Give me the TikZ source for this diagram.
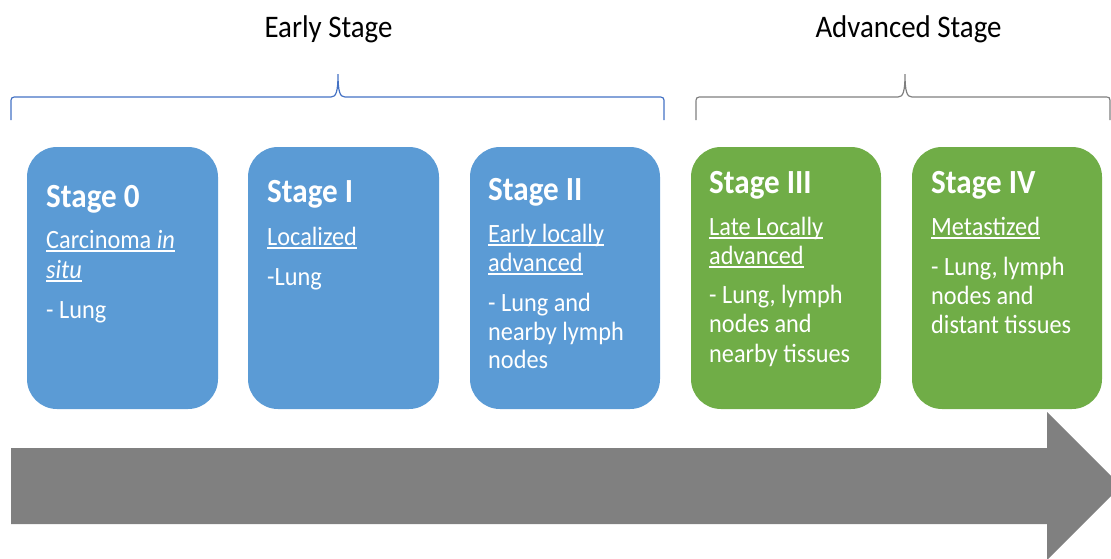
\documentclass[tikz,border=0pt]{standalone}
\usepackage{fontspec}
\setmainfont[FakeStretch=0.92]{Carlito}
\definecolor{boxblue}{HTML}{5B9BD5}
\definecolor{boxgreen}{HTML}{70AD47}
\definecolor{arrowgray}{HTML}{808080}
\definecolor{braceblue}{HTML}{4472C4}
\definecolor{bracegray}{HTML}{7F7F7F}
\newcommand\myul[1]{\setbox0\hbox{#1}\rlap{\rule[-3.6pt]{\wd0}{1.4pt}}\box0}
\tikzset{
  stagebox/.style={rounded corners=30pt, fill=#1},
  ttl/.style={font=\fontsize{33.8}{36}\selectfont\bfseries, text=white, anchor=base west, inner sep=0pt},
  bodytxt/.style={font=\fontsize{26.4}{29}\selectfont, text=white, anchor=base west, inner sep=0pt},
  header/.style={font=\fontsize{31.4}{34}\selectfont, text=black, anchor=base, inner sep=0pt},
  bracepath/.style={line width=1.2pt, draw=#1}
}
\begin{document}
\begin{tikzpicture}[x=1pt,y=-1pt]
\useasboundingbox (0,0) rectangle (1111,558);
\clip (0,0) rectangle (1111,558);

% headers
\node[header] (hEarly) at (328.5,37) {Early Stage};
\node[header] (hAdv) at (908.5,37) {Advanced Stage};

% braces
\draw[bracepath=braceblue] (11,120) -- (11,104) .. controls (11,97) .. (18,97) -- (331,97)
  .. controls (336,97) and (338,92) .. (338,74)
  .. controls (338,92) and (340,97) .. (345,97) -- (657,97)
  .. controls (664,97) .. (664,104) -- (664,120);
\draw[bracepath=bracegray] (696,120) -- (696,104) .. controls (696,97) .. (703,97) -- (898,97)
  .. controls (903,97) and (905,92) .. (905,74)
  .. controls (905,92) and (907,97) .. (912,97) -- (1104,97)
  .. controls (1110,97) .. (1110,104) -- (1110,120);

% boxes
\path[stagebox=boxblue] (27,147) rectangle (218,409);
\path[stagebox=boxblue] (248,147) rectangle (439,409);
\path[stagebox=boxblue] (470,147) rectangle (660,409);
\path[stagebox=boxgreen] (691,147) rectangle (881,409);
\path[stagebox=boxgreen] (912,147) rectangle (1102,409);

% Stage 0
\node[ttl] (t0) at (46,207) {Stage 0};
\node[bodytxt] (s0a) at (46,248) {\myul{Carcinoma \textit{in}}};
\node[bodytxt] (s0b) at (46,278) {\myul{\textit{situ}}};
\node[bodytxt] (s0c) at (46,318) {- Lung};

% Stage I
\node[ttl] (t1) at (267,202) {Stage I};
\node[bodytxt] (s1a) at (267,245) {\myul{Localized}};
\node[bodytxt] (s1b) at (267,285) {-Lung};

% Stage II
\node[ttl] (t2) at (488,200) {Stage II};
\node[bodytxt] (s2a) at (488,242) {\myul{Early locally}};
\node[bodytxt] (s2b) at (488,271) {\myul{advanced}};
\node[bodytxt] (s2c) at (488,311) {- Lung and};
\node[bodytxt] (s2d) at (488,340) {nearby lymph};
\node[bodytxt] (s2e) at (488,368) {nodes};

% Stage III
\node[ttl] (t3) at (709,193) {Stage III};
\node[bodytxt] (s3a) at (709,235) {\myul{Late Locally}};
\node[bodytxt] (s3b) at (709,264) {\myul{advanced}};
\node[bodytxt] (s3c) at (709,303) {- Lung, lymph};
\node[bodytxt] (s3d) at (709,332) {nodes and};
\node[bodytxt] (s3e) at (709,362) {nearby tissues};

% Stage IV
\node[ttl] (t4) at (931,193) {Stage IV};
\node[bodytxt] (s4a) at (931,235) {\myul{Metastized}};
\node[bodytxt] (s4b) at (931,275) {- Lung, lymph};
\node[bodytxt] (s4c) at (931,304) {nodes and};
\node[bodytxt] (s4d) at (931,333) {distant tissues};

% big arrow
\fill[arrowgray] (11,448) -- (1047,448) -- (1047,412) -- (1121,486) -- (1047,560)
  -- (1047,524) -- (11,524) -- cycle;
\end{tikzpicture}
\end{document}
